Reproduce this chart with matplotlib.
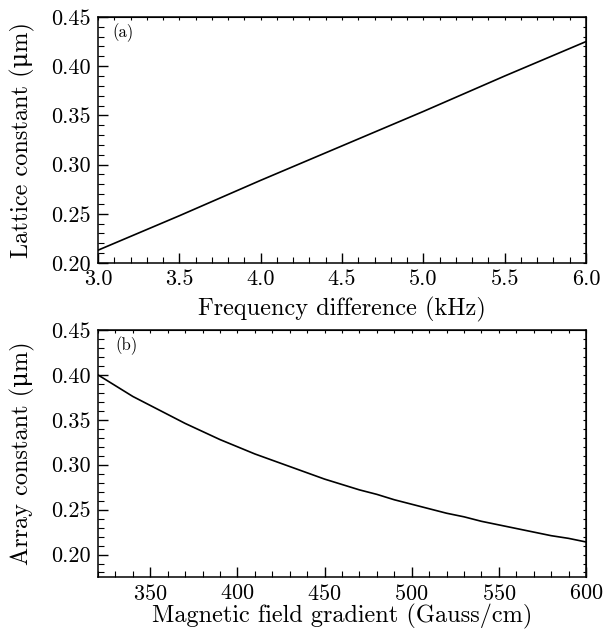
import matplotlib
matplotlib.use('Agg')
import matplotlib.pyplot as plt
from matplotlib.ticker import MultipleLocator, FormatStrFormatter

plt.rcParams['font.family'] = ['cmr10', 'DejaVu Serif']
plt.rcParams['mathtext.fontset'] = 'cm'
plt.rcParams['axes.formatter.use_mathtext'] = True

# panel (a): lattice constant vs frequency difference
freq_khz = [3.0, 3.5, 4.0, 4.5, 5.0, 5.5, 6.0]
lattice_um = [0.213, 0.248, 0.284, 0.319, 0.354, 0.390, 0.425]

# panel (b): array constant vs magnetic field gradient
grad_gcm = [320, 330, 340, 350, 360, 370, 380, 390, 400, 410, 420, 430, 440, 450, 460,
            470, 480, 490, 500, 510, 520, 530, 540, 550, 560, 570, 580, 590, 600]
array_um = [0.400, 0.388, 0.376, 0.366, 0.356, 0.346, 0.337, 0.328, 0.320, 0.312,
            0.305, 0.298, 0.291, 0.284, 0.278, 0.272, 0.267, 0.261, 0.256, 0.251,
            0.246, 0.242, 0.237, 0.233, 0.229, 0.225, 0.221, 0.218, 0.214]


def style(ax, xmaj, xmin, ymaj, ymin):
    ax.xaxis.set_major_locator(MultipleLocator(xmaj))
    ax.xaxis.set_minor_locator(MultipleLocator(xmin))
    ax.yaxis.set_major_locator(MultipleLocator(ymaj))
    ax.yaxis.set_minor_locator(MultipleLocator(ymin))
    ax.yaxis.set_major_formatter(FormatStrFormatter('%.2f'))
    ax.tick_params(which='major', direction='in', length=7.5, width=1.0, labelsize=16, pad=5)
    ax.tick_params(which='minor', direction='in', length=4, width=0.8)
    for s in ax.spines.values():
        s.set_linewidth(1.1)
    # short ticks on top and right
    top = ax.secondary_xaxis('top')
    top.xaxis.set_major_locator(MultipleLocator(xmin))
    top.tick_params(which='both', direction='in', length=2.5, width=0.8, labeltop=False)
    right = ax.secondary_yaxis('right')
    right.yaxis.set_major_locator(MultipleLocator(ymin))
    right.tick_params(which='both', direction='in', length=2.5, width=0.8, labelright=False)


fig = plt.figure(figsize=(6.03, 6.31), dpi=100)

ax1 = fig.add_axes([0.1625, 0.5832, 0.8093, 0.3899])
ax1.plot(freq_khz, lattice_um, color='black', lw=1.2)
ax1.set_xlim(3.0, 6.0)
ax1.set_ylim(0.20, 0.45)
style(ax1, 0.5, 0.1, 0.05, 0.01)
ax1.xaxis.set_major_formatter(FormatStrFormatter('%.1f'))
ax1.set_xlabel('Frequency difference (kHz)', fontsize=17.5)
ax1.set_ylabel('Lattice constant (μm)', fontsize=17.5)
ax1.xaxis.set_label_coords(0.5, -0.19)
ax1.yaxis.set_label_coords(-0.155, 0.5)
ax1.xaxis.label.set_va('center')
ax1.yaxis.label.set_va('center')
ax1.text(0.03, 0.975, '(a)', transform=ax1.transAxes, fontsize=12, va='top', ha='left')

ax2 = fig.add_axes([0.1625, 0.0856, 0.8093, 0.3914])
ax2.plot(grad_gcm, array_um, color='black', lw=1.2)
ax2.set_xlim(320, 600)
ax2.set_ylim(0.175, 0.45)
style(ax2, 50, 10, 0.05, 0.01)
ax2.set_xlabel('Magnetic field gradient (Gauss/cm)', fontsize=17.5)
ax2.set_ylabel('Array constant (μm)', fontsize=17.5)
ax2.xaxis.set_label_coords(0.5, -0.158)
ax2.yaxis.set_label_coords(-0.155, 0.5)
ax2.xaxis.label.set_va('center')
ax2.yaxis.label.set_va('center')
ax2.text(0.035, 0.975, '(b)', transform=ax2.transAxes, fontsize=12, va='top', ha='left')

fig.savefig('out.png', dpi=100)
